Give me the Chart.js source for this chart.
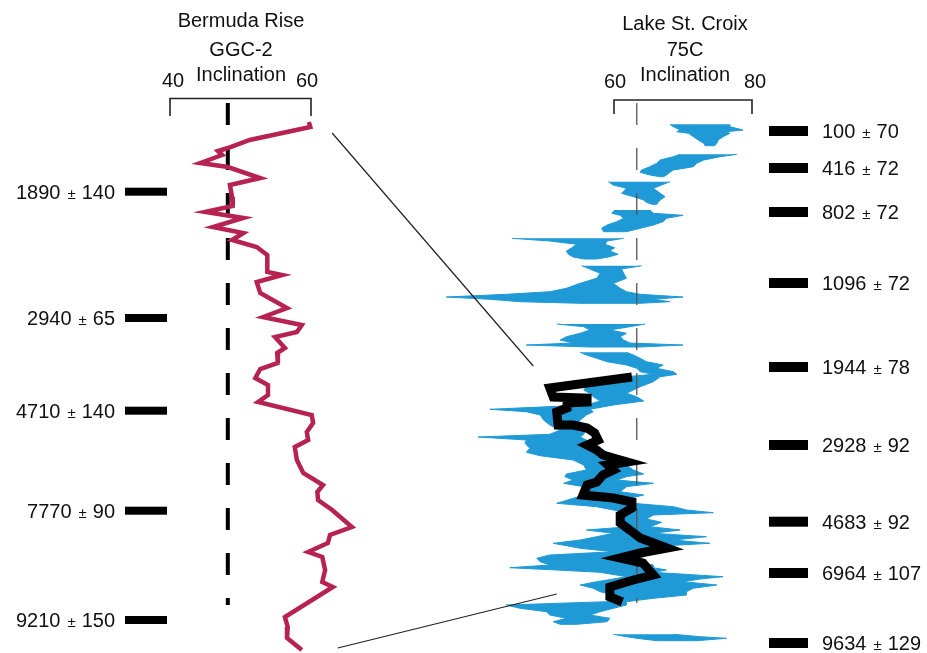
<!DOCTYPE html>
<html>
<head>
<meta charset="utf-8">
<script src="https://cdn.jsdelivr.net/npm/chart.js@4.4.1/dist/chart.umd.min.js"></script>
<style>
  html, body { margin: 0; padding: 0; background: #fff; }
  #wrap { width: 927px; height: 653px; }
</style>
</head>
<body>
<div id="wrap"><canvas id="myChart" width="927" height="653"></canvas></div>
<script>
'use strict'

// DATA
// Bermuda Rise GGC-2 inclination against depth
const bermudaDepth = [22, 27, 40, 48, 51, 55, 63, 67, 78, 85, 97, 106, 112, 118, 127, 133, 140, 147, 155, 172,
  175, 182, 193, 208, 217, 225, 232, 237, 248, 253, 263, 269, 278, 285, 295, 302, 315, 323, 332, 340,
  347, 360, 373, 385, 392, 400, 410, 427, 435, 443, 452, 457, 470, 482, 487, 517, 527, 538, 550];
const bermudaIncl = [59.7, 59.9, 51.3, 48.2, 46.8, 47.4, 44.3, 48.2, 52.8, 48.5, 48.8, 48.9, 45.0, 50.4, 46.1, 50.4, 48.8, 52.3, 53.8, 53.8,
  55.9, 52.3, 52.8, 56.6, 53.2, 58.7, 58.0, 54.9, 56.3, 55.2, 55.3, 52.8, 52.1, 53.9, 53.9, 52.5, 60.1, 60.3, 59.4, 59.6,
  57.7, 58.0, 58.9, 61.7, 60.9, 61.0, 63.0, 65.8, 62.7, 62.4, 59.6, 61.6, 62.0, 61.6, 63.1, 56.3, 56.7, 56.6, 58.7];

// Lake St. Croix 75C inclination, low / high envelope (null = gap)
const lakeDepth = [
  24.3, 26.7, 30, 31.7, 33.3, 36.7, 40, 43.3, 45.7, null,
  54.3, 56.7, 60, 63.3, 66.7, 70, 72.3, 75, 76.7, null,
  81.7, 85, 88.3, 93.3, 96.7, 100, 102.3, 104.3, null,
  110, 113.3, 115.3, 118.3, 121.7, 125, 128.3, 131.7, null,
  138.3, 141, 144.3, 147.7, 151, 154.3, 157, 159, null,
  165.7, 169, 173.3, 178.3, 183.3, 188.3, 191.7, 194.3, 197, 199.3, 201.7, 203.3, null,
  224, 226.7, 230, 233.3, 236.7, 240, 243, 245, 247, null,
  252.3, 255, 258.3, 261.7, 265, 268.3, 271.7, 274.3, 276.7, 281.7, 286.7, 290, 293.3, 296.7, 301, 305,
  309.3, 311.7, 315, 320, 325, 330, 334.3, 337, 340, 343.3, 348.3, 352.3, 355.7, 360, 365, 370,
  374, 376.7, 380, 383.3, 386.7, 391.7, 395, 398.3, 403.3, 406.7, 410, 412.7, 415, 419, 422.3, 426.7,
  430, 433.3, 436.7, 440, 443.3, 445.7, 448.3, 451.7, 455, 458.3, 461.7, 465, 467.7, 470, 472.3, 476.7,
  479, 481.7, 485, 488.3, 491.7, 495, 498.3, 501.7, 505, 508.3, 511.7, 515, 518.3, 521.7, 524.3, null,
  534.3, 536.7, 538.3, 540.7
];
const lakeLow = [
  68.1, 68.6, 69.6, 69.1, 70.8, 71.5, 72.2, 73.0, 73.2, null,
  69.6, 68.6, 66.7, 66.2, 65.2, 64.0, 63.8, 65.2, 66.7, null,
  59.2, 59.9, 61.8, 61.1, 62.8, 64.3, 64.7, 65.5, null,
  60.1, 59.7, 60.9, 61.4, 60.4, 59.0, 58.2, 58.5, null,
  45.2, 50.7, 54.6, 53.9, 53.1, 53.4, 54.1, 55.6, null,
  55.3, 56.5, 58.0, 57.5, 55.1, 53.1, 50.7, 44.4, 35.7, 42.0, 46.4, 55.1, null,
  51.7, 55.6, 56.5, 55.1, 53.1, 52.2, 54.1, 47.3, 56.5, null,
  55.1, 56.0, 57.5, 59.0, 61.8, 63.3, 63.8, 65.7, 61.8, 57.5, 56.0, 55.6, 56.5, 57.0, 58.0, 56.0,
  42.0, 47.3, 49.3, 49.8, 50.7, 52.2, 50.7, 40.3, 47.3, 47.1, 47.8, 47.3, 49.3, 54.1, 55.6, 56.0,
  53.1, 52.9, 54.1, 52.7, 55.6, 55.1, 55.6, 54.1, 51.7, 57.5, 59.9, 61.8, 60.9, 60.4, 61.8, 62.3,
  56.0, 59.9, 57.5, 55.1, 51.2, 53.1, 55.1, 59.9, 50.7, 48.8, 49.3, 50.7, 44.9, 51.7, 58.0, 61.8,
  59.9, 57.5, 55.1, 57.0, 58.0, 59.9, 60.9, 59.0, 44.4, 46.4, 50.2, 50.7, 53.1, 51.2, 52.2, null,
  59.9, 61.8, 63.3, 66.2
];
const lakeHigh = [
  76.8, 76.8, 78.7, 76.3, 76.8, 75.8, 75.1, 74.9, 74.6, null,
  77.8, 75.4, 73.0, 72.0, 71.5, 68.6, 68.1, 67.6, 67.2, null,
  68.1, 66.9, 65.7, 66.7, 67.4, 66.7, 66.4, 66.2, null,
  65.2, 65.7, 70.0, 67.6, 67.1, 65.7, 63.8, 61.8, null,
  61.4, 59.0, 58.7, 60.1, 59.4, 60.6, 59.2, 57.5, null,
  64.0, 61.1, 61.4, 61.8, 59.9, 60.9, 61.8, 63.8, 70.0, 65.7, 68.1, 63.8, null,
  64.5, 62.3, 59.4, 61.8, 60.9, 61.4, 62.3, 70.0, 63.8, null,
  61.8, 62.8, 63.8, 64.7, 67.1, 66.2, 68.6, 69.1, 66.7, 65.7, 63.8, 62.8, 61.8, 63.3, 64.3, 59.9,
  56.5, 57.0, 56.0, 55.1, 54.6, 56.0, 55.6, 55.1, 56.0, 57.0, 58.0, 59.0, 57.5, 59.9, 61.8, 62.8,
  64.3, 61.8, 60.4, 65.7, 61.8, 60.9, 64.3, 62.3, 62.8, 68.6, 70.5, 74.4, 65.7, 64.7, 66.9, 65.2,
  69.6, 65.7, 73.4, 68.6, 73.9, 67.6, 67.1, 67.6, 64.7, 63.8, 62.8, 65.7, 65.7, 67.6, 65.7, 75.8,
  72.5, 70.0, 74.9, 71.5, 70.5, 70.5, 65.7, 61.8, 61.8, 59.9, 58.0, 56.5, 59.4, 59.0, 54.6, null,
  68.6, 72.5, 76.3, 72.0
];

// Lake St. Croix smoothed record
const smoothDepth = [277, 288, 297, 298, 302, 303, 308, 312, 325, 325, 328, 333, 340, 345, 350, 355, 362, 365, 370, 375,
  382, 385, 395, 398, 402, 408, 415, 423, 430, 438, 448, 453, 458, 463, 475, 480, 487, 497, 502];
const smoothIncl = [62.6, 50.7, 51.2, 56.1, 56.1, 53.2, 53.2, 51.7, 51.9, 54.1, 56.1, 57.2, 57.7, 56.1, 57.5, 58.4, 61.9, 59.1, 59.9, 58.4,
  57.5, 56.1, 55.5, 59.9, 62.6, 62.6, 60.9, 60.9, 62.3, 63.8, 67.7, 63.8, 60.9, 64.2, 65.7, 62.8, 59.4, 59.4, 61.2];

// reference (dashed) inclinations and their depth span
const refLeft = 48.2;
const refRight = 63.3;
const refDepthLeft = [3, 505];
const refDepthRight = [3, 503];

// age markers (years BP), value and error
const leftAges = ['1890', '2940', '4710', '7770', '9210'];
const leftAgeErr = ['140', '65', '140', '90', '150'];
const leftAgeDepth = [91.7, 218, 310.7, 410.7, 520];
const rightAges = ['100', '416', '802', '1096', '1944', '2928', '4683', '6964', '9634'];
const rightAgeErr = ['70', '72', '72', '72', '78', '92', '92', '107', '129'];
const rightAgeDepth = [31, 68, 112, 183, 267, 345, 421.7, 473, 543];

// tie lines between the two records
const tieLeftIncl = [63.0, 63.8];
const tieLeftDepth = [33, 548];
const tieRightIncl = [48.3, 51.7];
const tieRightDepth = [266, 494];

// LAYOUT
const W = 927;
const H = 653;
const FAMILY = '"Liberation Sans", Arial, Helvetica, sans-serif';
const FONT = '20px ' + FAMILY;
const PM_FONT = '15px ' + FAMILY;
const panelLeft = { lo: 40, hi: 60, px0: 170, px1: 311 };
const panelRight = { lo: 60, hi: 80, px0: 614, px1: 752 };

function axisRange(p) {
  let k = (p.hi - p.lo) / (p.px1 - p.px0);
  return { min: p.lo - p.px0 * k, max: p.lo + (W - p.px0) * k };
}

function zip(xs, ys) {
  return xs.map((x, i) => ({ x: x, y: ys[i] }));
}

// lake envelope -> closed polygons, one per block
function buildEnvelope(depth, lo, hi) {
  let pts = [];
  let left = [];
  let right = [];
  for (let i = 0; i <= depth.length; i++) {
    if (i === depth.length || depth[i] === null) {
      pts.push(...left, ...right.reverse(), { x: NaN, y: NaN });
      left = [];
      right = [];
      continue;
    }
    left.push({ x: lo[i], y: depth[i] });
    right.push({ x: hi[i], y: depth[i] });
  }
  return pts;
}

// "value ± err" with a small ± sign, starting at x
function ageWidth(ctx, a, b) {
  ctx.font = FONT;
  let w = ctx.measureText(a).width + ctx.measureText(b).width + 13;
  ctx.font = PM_FONT;
  return w + ctx.measureText('±').width;
}

function drawAge(ctx, a, b, x, y) {
  ctx.textAlign = 'left';
  ctx.textBaseline = 'alphabetic';
  let base = y + 7;
  ctx.font = FONT;
  ctx.fillText(a, x, base);
  x += ctx.measureText(a).width + 7;
  ctx.font = PM_FONT;
  ctx.fillText('±', x, base);
  x += ctx.measureText('±').width + 6;
  ctx.font = FONT;
  ctx.fillText(b, x, base);
}

const decorPlugin = {
  id: 'decor',
  afterDatasetsDraw(chart) {
    const ctx = chart.ctx;
    const xL = chart.scales.xL;
    const xR = chart.scales.xR;
    const y = chart.scales.y;
    ctx.save();

    // tie lines
    ctx.strokeStyle = '#222';
    ctx.lineWidth = 1.2;
    for (let i = 0; i < tieLeftIncl.length; i++) {
      ctx.beginPath();
      ctx.moveTo(xL.getPixelForValue(tieLeftIncl[i]), y.getPixelForValue(tieLeftDepth[i]));
      ctx.lineTo(xR.getPixelForValue(tieRightIncl[i]), y.getPixelForValue(tieRightDepth[i]));
      ctx.stroke();
    }

    // bracket axes
    ctx.lineWidth = 1.6;
    ctx.strokeStyle = '#222';
    function bracket(scale, p, top, bottom) {
      let a = scale.getPixelForValue(p.lo);
      let b = scale.getPixelForValue(p.hi);
      ctx.beginPath();
      ctx.moveTo(a, bottom);
      ctx.lineTo(a, top);
      ctx.lineTo(b, top);
      ctx.lineTo(b, bottom);
      ctx.stroke();
    }
    bracket(xL, panelLeft, 98.5, 116);
    bracket(xR, panelRight, 100, 114);

    // titles
    ctx.fillStyle = '#111';
    ctx.font = FONT;
    ctx.textAlign = 'center';
    ctx.textBaseline = 'alphabetic';
    ctx.fillText('Bermuda Rise', 241, 27);
    ctx.fillText('GGC-2', 241, 56);
    ctx.fillText('Inclination', 241, 81);
    ctx.fillText(String(panelLeft.lo), xL.getPixelForValue(panelLeft.lo) + 3, 87);
    ctx.fillText(String(panelLeft.hi), xL.getPixelForValue(panelLeft.hi) - 4, 87);

    ctx.fillText('Lake St. Croix', 685, 30);
    ctx.fillText('75C', 685, 56);
    ctx.fillText('Inclination', 685, 81);
    ctx.fillText(String(panelRight.lo), xR.getPixelForValue(panelRight.lo) + 1, 88);
    ctx.fillText(String(panelRight.hi), xR.getPixelForValue(panelRight.hi) + 3, 88);

    // age markers
    for (let i = 0; i < leftAges.length; i++) {
      let py = y.getPixelForValue(leftAgeDepth[i]);
      ctx.fillStyle = '#000';
      ctx.fillRect(125, py - 4, 42, 8);
      ctx.fillStyle = '#111';
      let w = ageWidth(ctx, leftAges[i], leftAgeErr[i]);
      drawAge(ctx, leftAges[i], leftAgeErr[i], 115 - w, py);
    }
    for (let i = 0; i < rightAges.length; i++) {
      let py = y.getPixelForValue(rightAgeDepth[i]);
      ctx.fillStyle = '#000';
      ctx.fillRect(769, py - 5, 39, 10);
      ctx.fillStyle = '#111';
      drawAge(ctx, rightAges[i], rightAgeErr[i], 822, py);
    }
    ctx.restore();
  }
};

const rangeL = axisRange(panelLeft);
const rangeR = axisRange(panelRight);

const data = {
  datasets: [
    {
      label: 'Lake St. Croix smoothed',
      data: zip(smoothIncl, smoothDepth),
      xAxisID: 'xR',
      yAxisID: 'y',
      showLine: true,
      borderColor: '#000',
      borderWidth: 9,
      borderJoinStyle: 'miter',
      pointRadius: 0,
      order: 0
    },
    {
      label: 'Bermuda Rise GGC-2',
      data: zip(bermudaIncl, bermudaDepth),
      xAxisID: 'xL',
      yAxisID: 'y',
      showLine: true,
      borderColor: '#b62351',
      borderWidth: 4.5,
      borderJoinStyle: 'miter',
      pointRadius: 0,
      order: 1
    },
    {
      label: 'ref right',
      data: refDepthRight.map((d) => ({ x: refRight, y: d })),
      xAxisID: 'xR',
      yAxisID: 'y',
      showLine: true,
      borderColor: '#555',
      borderWidth: 1.3,
      borderDash: [22, 23],
      pointRadius: 0,
      order: 2
    },
    {
      label: 'Lake St. Croix 75C',
      data: buildEnvelope(lakeDepth, lakeLow, lakeHigh),
      xAxisID: 'xR',
      yAxisID: 'y',
      showLine: true,
      spanGaps: false,
      fill: 'shape',
      backgroundColor: '#1f9ad6',
      borderColor: '#1f9ad6',
      borderWidth: 1,
      pointRadius: 0,
      order: 3
    },
    {
      label: 'ref left',
      data: refDepthLeft.map((d) => ({ x: refLeft, y: d })),
      xAxisID: 'xL',
      yAxisID: 'y',
      showLine: true,
      borderColor: '#000',
      borderWidth: 4,
      borderDash: [22, 23],
      pointRadius: 0,
      order: 4
    }
  ]
};

const config = {
  type: 'scatter',
  data: data,
  options: {
    responsive: false,
    devicePixelRatio: 1,
    animation: false,
    events: [],
    layout: { padding: 0 },
    clip: false,
    plugins: {
      legend: { display: false },
      tooltip: { enabled: false },
      title: { display: false }
    },
    scales: {
      xL: { type: 'linear', display: false, min: rangeL.min, max: rangeL.max },
      xR: { type: 'linear', display: false, min: rangeR.min, max: rangeR.max },
      y: { type: 'linear', display: false, reverse: true, min: -100, max: H - 100 }
    }
  },
  plugins: [decorPlugin]
};

let canvasChart = document.getElementById('myChart');
const myChart = new Chart(canvasChart, config);
</script>
</body>
</html>
